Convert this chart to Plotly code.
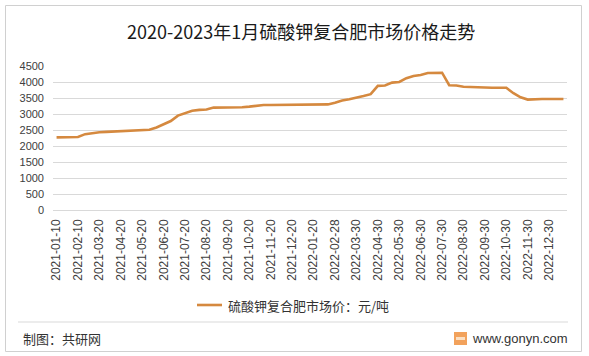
import plotly.graph_objects as go

dates = [
    "2021-01-10", "2021-01-20", "2021-01-30", "2021-02-10", "2021-02-20", "2021-03-10",
    "2021-03-20", "2021-03-30", "2021-04-10", "2021-04-20", "2021-04-30", "2021-05-10",
    "2021-05-20", "2021-05-30", "2021-06-10", "2021-06-20", "2021-06-30", "2021-07-10",
    "2021-07-20", "2021-07-30", "2021-08-10", "2021-08-20", "2021-08-30", "2021-09-10",
    "2021-09-20", "2021-09-30", "2021-10-10", "2021-10-20", "2021-10-30", "2021-11-10",
    "2021-11-20", "2021-11-30", "2021-12-10", "2021-12-20", "2021-12-30", "2022-01-10",
    "2022-01-20", "2022-02-10", "2022-02-20", "2022-02-28", "2022-03-10", "2022-03-20",
    "2022-03-30", "2022-04-10", "2022-04-20", "2022-04-30", "2022-05-10", "2022-05-20",
    "2022-05-30", "2022-06-10", "2022-06-20", "2022-06-30", "2022-07-10", "2022-07-20",
    "2022-07-30", "2022-08-10", "2022-08-20", "2022-08-30", "2022-09-10", "2022-09-20",
    "2022-09-30", "2022-10-10", "2022-10-20", "2022-10-30", "2022-11-10", "2022-11-20",
    "2022-11-30", "2022-12-10", "2022-12-20", "2022-12-30", "2023-01-10", "2023-01-20",
]

prices = [
    2270, 2270, 2270, 2280, 2370, 2410,
    2430, 2440, 2450, 2460, 2480, 2500,
    2510, 2510, 2580, 2680, 2780, 2950,
    3030, 3100, 3130, 3140, 3200, 3200,
    3200, 3200, 3210, 3230, 3260, 3280,
    3280, 3280, 3280, 3280, 3280, 3280,
    3280, 3280, 3300, 3350, 3420, 3460,
    3500, 3560, 3620, 3880, 3890, 3980,
    4000, 4120, 4190, 4220, 4280, 4290,
    4290, 3900, 3890, 3850, 3840, 3820,
    3820, 3820, 3820, 3820, 3650, 3520,
    3450, 3470, 3470, 3470, 3470, 3470,
]

tick_labels = [
    "2021-01-10", "2021-02-10", "2021-03-20", "2021-04-20", "2021-05-20", "2021-06-20",
    "2021-07-20", "2021-08-20", "2021-09-20", "2021-10-20", "2021-11-20", "2021-12-20",
    "2022-01-20", "2022-02-28", "2022-03-30", "2022-04-30", "2022-05-30", "2022-06-30",
    "2022-07-30", "2022-08-30", "2022-09-30", "2022-10-30", "2022-11-30", "2022-12-30",
]

y_ticks = [0, 500, 1000, 1500, 2000, 2500, 3000, 3500, 4000, 4500]

series_name = "硫酸钾复合肥市场价：元/吨"
title_text = "2020-2023年1月硫酸钾复合肥市场价格走势"

W, H = 589, 356
L, R, T, B = 53, 567, 66, 210
LINE_COLOR = "#D5893F"
CJK = "Noto Sans CJK SC"
LAT = "Liberation Sans, Arial"


def px_x(x):
    return (x - L) / (R - L)


def px_y(y):
    return (B - y) / (B - T)


fig = go.Figure()
fig.add_trace(go.Scatter(
    x=dates, y=prices, mode="lines", name=series_name,
    line=dict(color=LINE_COLOR, width=2.6),
    showlegend=False,
))

fig.update_layout(
    width=W, height=H,
    margin=dict(l=L, r=W - R, t=T, b=H - B),
    paper_bgcolor="white", plot_bgcolor="white",
    showlegend=False,
    xaxis=dict(
        type="category", range=[-0.5, len(dates) - 0.5],
        tickmode="array", tickvals=tick_labels, ticktext=tick_labels,
        tickangle=-90, tickfont=dict(family=LAT, size=12, color="#404040"),
        showgrid=False, showline=False, zeroline=False, ticks="",
        ticklabelstandoff=6,
    ),
    yaxis=dict(
        range=[0, 4500], tickmode="array", tickvals=y_ticks,
        tickfont=dict(family=LAT, size=11, color="#404040"),
        showgrid=True, gridcolor="#D9D9D9", gridwidth=1,
        zeroline=True, zerolinecolor="#D9D9D9", zerolinewidth=1,
        showline=False, ticks="", ticklabelstandoff=8,
    ),
)

shapes = []
# outer frame
shapes.append(dict(type="rect", xref="paper", yref="paper",
                   x0=px_x(5.5), x1=px_x(581.5), y0=px_y(351.5), y1=px_y(5.5),
                   line=dict(color="#D0D0D0", width=1), fillcolor="rgba(0,0,0,0)", layer="below"))
# separator line above footer
shapes.append(dict(type="line", xref="paper", yref="paper",
                   x0=px_x(18), x1=px_x(568), y0=px_y(322), y1=px_y(322),
                   line=dict(color="#D9D9D9", width=1)))
# legend sample line
shapes.append(dict(type="line", xref="paper", yref="paper",
                   x0=px_x(197), x1=px_x(222), y0=px_y(305), y1=px_y(305),
                   line=dict(color=LINE_COLOR, width=2.6)))
# small site icon
shapes.append(dict(type="rect", xref="paper", yref="paper",
                   x0=px_x(454), x1=px_x(467), y0=px_y(345), y1=px_y(332),
                   line=dict(width=0), fillcolor="#F2A25C"))
shapes.append(dict(type="rect", xref="paper", yref="paper",
                   x0=px_x(456), x1=px_x(465), y0=px_y(340), y1=px_y(337),
                   line=dict(width=0), fillcolor="#FBE0C4"))
fig.update_layout(shapes=shapes)

annotations = [
    dict(text=title_text, x=px_x(301), y=px_y(31), xref="paper", yref="paper",
         showarrow=False, xanchor="center", yanchor="middle",
         font=dict(family=CJK, size=18, color="#1a1a1a")),
    dict(text=series_name, x=px_x(226), y=px_y(305), xref="paper", yref="paper",
         showarrow=False, xanchor="left", yanchor="middle",
         font=dict(family=CJK, size=13, color="#333333")),
    dict(text="制图：共研网", x=px_x(21), y=px_y(338), xref="paper", yref="paper",
         showarrow=False, xanchor="left", yanchor="middle",
         font=dict(family=CJK, size=13, color="#333333")),
    dict(text="www.gonyn.com", x=px_x(470), y=px_y(338), xref="paper", yref="paper",
         showarrow=False, xanchor="left", yanchor="middle",
         font=dict(family=LAT, size=13, color="#333333")),
]
fig.update_layout(annotations=annotations)

fig.write_html("out.html")
